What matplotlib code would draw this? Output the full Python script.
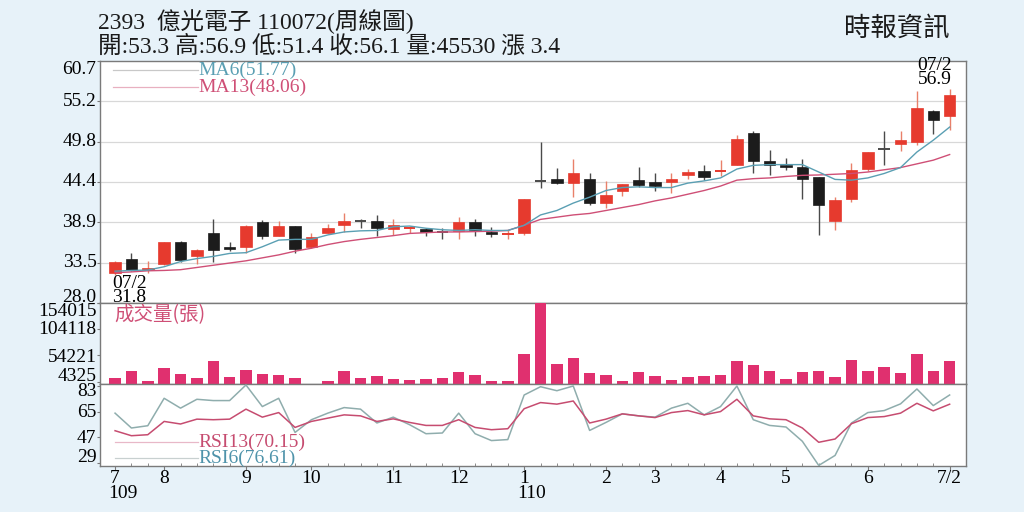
import matplotlib
matplotlib.use('Agg')
import matplotlib.pyplot as plt
import numpy as np
from matplotlib.transforms import blended_transform_factory, ScaledTranslation

plt.rcParams['font.family'] = ['Liberation Serif', 'Noto Sans CJK TC', 'DejaVu Sans']

# ---------------- data ----------------
opens = [32.1, 34.0, 32.5, 33.3, 36.2, 34.3, 37.5, 35.5, 35.5, 39.0,
         37.0, 38.4, 35.6, 37.5, 38.6, 39.1, 39.1, 38.0, 38.1, 38.0,
         37.65, 37.75, 38.95, 37.6, 37.25, 37.5, 44.55, 44.7, 44.2, 44.8,
         41.5, 43.2, 44.6, 44.3, 44.35, 45.3, 45.8, 45.8, 46.6, 51.0,
         47.2, 46.7, 46.4, 45.0, 39.05, 42.0, 46.15, 48.9, 49.5, 49.7,
         54.0, 53.3]
highs = [33.7, 34.8, 33.7, 36.3, 36.4, 35.3, 39.4, 36.2, 38.55, 39.2,
         39.1, 38.4, 37.4, 38.65, 40.1, 39.4, 39.9, 39.4, 38.4, 38.2,
         38.1, 39.6, 39.4, 38.3, 37.9, 42.1, 49.7, 46.2, 47.4, 45.5,
         44.5, 44.1, 46.4, 45.55, 45.6, 46.15, 46.6, 47.3, 50.7, 51.3,
         48.7, 47.6, 47.4, 45.0, 42.3, 46.9, 48.4, 51.2, 51.2, 56.6,
         54.1, 56.9]
lows = [31.8, 32.35, 32.1, 33.2, 33.6, 33.3, 33.5, 35.05, 34.7, 36.6,
        37.0, 34.7, 35.4, 37.5, 37.6, 38.2, 37.0, 37.2, 37.4, 37.1,
        36.7, 36.7, 37.0, 36.9, 36.6, 37.25, 43.6, 44.1, 42.3, 41.2,
        40.9, 42.45, 43.7, 43.2, 42.8, 44.8, 44.65, 45.1, 46.6, 45.5,
        45.25, 46.0, 42.1, 37.15, 37.9, 41.65, 45.8, 46.6, 48.5, 49.3,
        50.8, 51.4]
closes = [33.6, 32.45, 32.7, 36.3, 33.8, 35.2, 35.2, 35.3, 38.4, 37.0,
          38.4, 35.3, 36.9, 38.1, 39.05, 39.0, 38.1, 38.6, 38.2, 37.6,
          37.55, 38.9, 37.75, 37.3, 37.35, 42.1, 44.45, 44.2, 45.5, 41.5,
          42.55, 44.1, 44.0, 43.8, 44.8, 45.7, 45.0, 45.9, 50.1, 47.2,
          46.6, 46.4, 44.8, 41.2, 41.95, 46.0, 48.4, 48.8, 50.0, 54.4,
          52.7, 56.1]
ma6 = [32.3, 32.4, 32.45, 32.9, 33.6, 34.0, 34.3, 34.7, 34.8, 35.6,
       36.5, 36.6, 36.6, 37.2, 37.6, 37.75, 37.8, 38.3, 38.4, 38.1,
       37.9, 37.8, 37.9, 37.8, 37.8, 38.5, 39.9, 40.5, 41.5, 42.3,
       43.2, 43.6, 43.7, 43.6, 43.6, 44.2, 44.5, 44.9, 46.1, 46.6,
       46.7, 46.7, 46.7, 45.7, 44.7, 44.6, 44.9, 45.5, 46.3, 48.4,
       50.0, 51.77]
ma13 = [32.1, 32.2, 32.35, 32.4, 32.5, 32.8, 33.1, 33.4, 33.7, 34.1,
        34.5, 35.0, 35.4, 35.9, 36.3, 36.6, 36.85, 37.1, 37.4, 37.5,
        37.6, 37.6, 37.65, 37.7, 37.8, 38.5, 39.3, 39.6, 39.9, 40.1,
        40.5, 40.9, 41.3, 41.8, 42.2, 42.7, 43.2, 43.8, 44.6, 44.8,
        44.9, 45.1, 45.25, 45.3, 45.4, 45.5, 45.7, 46.0, 46.3, 46.8,
        47.3, 48.06]
volume = [11400, 24000, 6300, 30400, 19000, 11400, 44300, 13300, 25900, 19000,
          17700, 11400, 800, 6300, 25300, 11400, 14400, 9500, 8200, 10000,
          12000, 22800, 17700, 4900, 4900, 57000, 154015, 38600, 49400, 20900,
          17700, 6300, 22000, 14400, 8200, 13900, 15200, 17700, 44300, 36700,
          24000, 9500, 22200, 24000, 12500, 46200, 25300, 32900, 20100, 56500,
          24000, 43000]
rsi6 = [63.9, 53.5, 55.1, 74.3, 67.4, 73.6, 72.7, 72.7, 83.6, 68.5,
        74.3, 50.4, 59.3, 63.9, 67.8, 66.7, 57.0, 61.1, 55.8, 49.5,
        50.0, 63.9, 49.5, 44.7, 45.4, 76.6, 82.4, 79.6, 82.9, 51.8,
        57.4, 63.4, 62.0, 61.1, 67.4, 70.8, 62.7, 68.5, 82.9, 59.3,
        55.3, 54.2, 44.2, 27.3, 34.3, 57.0, 64.3, 65.7, 70.4, 80.8,
        69.2, 76.61]
rsi13 = [51.6, 48.1, 48.8, 58.1, 56.3, 59.7, 59.3, 59.7, 66.7, 61.1,
         64.3, 53.9, 58.1, 60.4, 62.7, 62.0, 58.1, 59.9, 57.4, 55.3,
         55.3, 59.3, 53.9, 52.3, 53.0, 67.0, 71.3, 70.2, 72.4, 57.0,
         59.7, 63.4, 62.0, 60.8, 64.3, 65.7, 62.7, 65.0, 73.6, 62.0,
         59.9, 59.3, 53.5, 43.5, 45.8, 56.5, 60.8, 61.5, 63.9, 70.8,
         65.5, 70.15]

month_ticks = [0, 3, 8, 12, 17, 21, 25, 30, 33, 37, 41, 46, 51]
month_labels = ['7', '8', '9', '10', '11', '12', '1', '2', '3', '4', '5', '6', '7/2']
year_pos = [0, 25]
year_labels = ['109', '110']
price_ticks = [28.0, 33.45, 38.9, 44.35, 49.8, 55.25, 60.7]
price_labels = ['28.0', '33.5', '38.9', '44.4', '49.8', '55.2', '60.7']
vol_ticks = [4325, 54221, 104118, 154015]
vol_labels = ['4325', '54221', '104118', '154015']
rsi_ticks = [29, 47, 65, 83]
rsi_labels = ['29', '47', '65', '83']

title1 = '2393  億光電子 110072(周線圖)'
title2 = '開:53.3 高:56.9 低:51.4 收:56.1 量:45530 漲 3.4'
source = '時報資訊'

# ---------------- styling ----------------
BG = '#e7f2f9'
RED = '#e63a2e'
BLACK = '#1c1c1c'
RED_WICK = '#e9806a'
BLACK_WICK = '#4a4a4a'
MA6_C = '#5a9fb3'
MA13_C = '#cf4f76'
VOL_C = '#e0306f'
RSI6_C = '#8fadad'
RSI13_C = '#c64c70'
SPINE = '#7a7a7a'
FS = 14

fig = plt.figure(figsize=(10.24, 5.12), dpi=100, facecolor=BG)
L, W = 100 / 1024, 866 / 1024
ax1 = fig.add_axes([L, 1 - 303 / 512, W, 242 / 512])
ax2 = fig.add_axes([L, 1 - 384 / 512, W, 81 / 512], sharex=ax1)
ax3 = fig.add_axes([L, 1 - 466 / 512, W, 82 / 512], sharex=ax1)

n = len(closes)
x = np.arange(n)

for ax in (ax1, ax2, ax3):
    ax.set_facecolor('white')
    for s in ax.spines.values():
        s.set_color(SPINE)
        s.set_linewidth(1.0)
    ax.tick_params(axis='y', which='both', length=2, color=SPINE, labelleft=False)
    ax.tick_params(axis='x', which='both', labelbottom=False, length=0)

ax1.set_xlim(-0.92, 52.0)

# ---- price panel ----
ax1.set_ylim(28.0, 60.7)
ax1.set_yticks(price_ticks)
for t in price_ticks[1:-1]:
    ax1.axhline(t, color='#d8d8d8', lw=0.9, zorder=0)

bw = 0.7
for i in range(n):
    o, h, l, c = opens[i], highs[i], lows[i], closes[i]
    up = c >= o
    body_c = RED if up else BLACK
    wick_c = RED_WICK if up else BLACK_WICK
    ax1.vlines(i, l, h, color=wick_c, lw=1.0, zorder=2)
    hgt = abs(c - o)
    if hgt < 0.12:
        ax1.hlines((o + c) / 2, i - bw / 2, i + bw / 2, color=wick_c if not up else RED, lw=1.4, zorder=3)
    else:
        ax1.bar(i, hgt, bottom=min(o, c), width=bw, color=body_c, edgecolor=body_c,
                linewidth=0.5, zorder=3)

ax1.plot(x, ma13, color=MA13_C, lw=1.0, zorder=4)
ax1.plot(x, ma6, color=MA6_C, lw=1.0, zorder=4)

ax1.plot([0.015, 0.113], [0.963, 0.963], transform=ax1.transAxes, color='#c8c8c8', lw=0.9)
ax1.plot([0.015, 0.113], [0.893, 0.893], transform=ax1.transAxes, color='#e8b0c0', lw=0.9)
ax1.text(0.114, 0.963, 'MA6(%.2f)' % ma6[-1], transform=ax1.transAxes, color=MA6_C,
         fontsize=FS, va='center', ha='left')
ax1.text(0.114, 0.893, 'MA13(%.2f)' % ma13[-1], transform=ax1.transAxes, color=MA13_C,
         fontsize=FS, va='center', ha='left')

imin = int(np.argmin(lows))
imax = int(np.argmax(highs))
ax1.annotate('07/2\n%.1f' % lows[imin], xy=(imin, lows[imin]), xytext=(-3, 0),
             textcoords='offset pixels', ha='left', va='top', fontsize=FS,
             linespacing=0.8, annotation_clip=False, zorder=6)
ax1.annotate('07/2\n%.1f' % highs[imax], xy=(imax, highs[imax]), xytext=(2, 1),
             textcoords='offset pixels', ha='right', va='bottom', fontsize=FS,
             linespacing=0.8, annotation_clip=False, zorder=6)

# ---- volume panel ----
ax2.set_ylim(0, 154015)
ax2.set_yticks(vol_ticks)
ax2.bar(x, volume, width=0.7, color=VOL_C, zorder=3)
ax2.text(0.017, 0.86, '成交量(張)', transform=ax2.transAxes, color=MA13_C,
         fontsize=14, va='center', ha='left',
         family=['Noto Sans CJK TC', 'Liberation Serif'])

# ---- RSI panel ----
ax3.set_ylim(26.9, 84.3)
ax3.set_yticks(rsi_ticks)
ax3.plot(x, rsi6, color=RSI6_C, lw=1.1, zorder=3)
ax3.plot(x, rsi13, color=RSI13_C, lw=1.1, zorder=4)
ax3.plot([0.017, 0.113], [0.293, 0.293], transform=ax3.transAxes, color='#e8b8c8', lw=0.9)
ax3.plot([0.017, 0.113], [0.098, 0.098], transform=ax3.transAxes, color='#c8d0d0', lw=0.9)
ax3.text(0.114, 0.293, 'RSI13(%.2f)' % rsi13[-1], transform=ax3.transAxes, color=RSI13_C,
         fontsize=FS, va='center', ha='left')
ax3.text(0.114, 0.098, 'RSI6(%.2f)' % rsi6[-1], transform=ax3.transAxes, color='#4f93aa',
         fontsize=FS, va='center', ha='left')

# x ticks
ax3.set_xticks(month_ticks)
ax3.set_xticks(x, minor=True)
ax3.tick_params(axis='x', which='major', length=3, color=SPINE, labelbottom=True,
                labelsize=FS, pad=0)
ax3.tick_params(axis='x', which='minor', length=2, color=SPINE, direction='in')
ax3.set_xticklabels(month_labels)
xt = blended_transform_factory(ax3.transData, ax3.transAxes)
for p, lab in zip(year_pos, year_labels):
    ax3.text(p - 0.4, -0.34, lab, transform=xt, ha='left', va='center', fontsize=FS)

# manual y labels with nudges
def ylabels(ax, ticks, labels, nudges):
    tr = blended_transform_factory(ax.transAxes, ax.transData)
    for t, lab, dy in zip(ticks, labels, nudges):
        ax.text(-0.004, t, lab, ha='right', va='center', fontsize=FS, clip_on=False,
                transform=tr + ScaledTranslation(0, dy / 100, fig.dpi_scale_trans))

ylabels(ax1, price_ticks, price_labels, [6, 0, 0, 0, 0, 0, -9])
ylabels(ax2, vol_ticks, vol_labels, [5, -2, 0, -9])
ylabels(ax3, rsi_ticks, rsi_labels, [5, -1, -1, -6])

# header
fig.text(98 / 1024, 1 - 22 / 512, title1, fontsize=17, va='center', ha='left', color='#1a1a1a')
fig.text(98 / 1024, 1 - 46 / 512, title2, fontsize=17, va='center', ha='left', color='#1a1a1a')
fig.text(950 / 1024, 1 - 28 / 512, source, fontsize=19, va='center', ha='right', color='#1a1a1a')

fig.savefig('out.png', dpi=100, facecolor=BG)
